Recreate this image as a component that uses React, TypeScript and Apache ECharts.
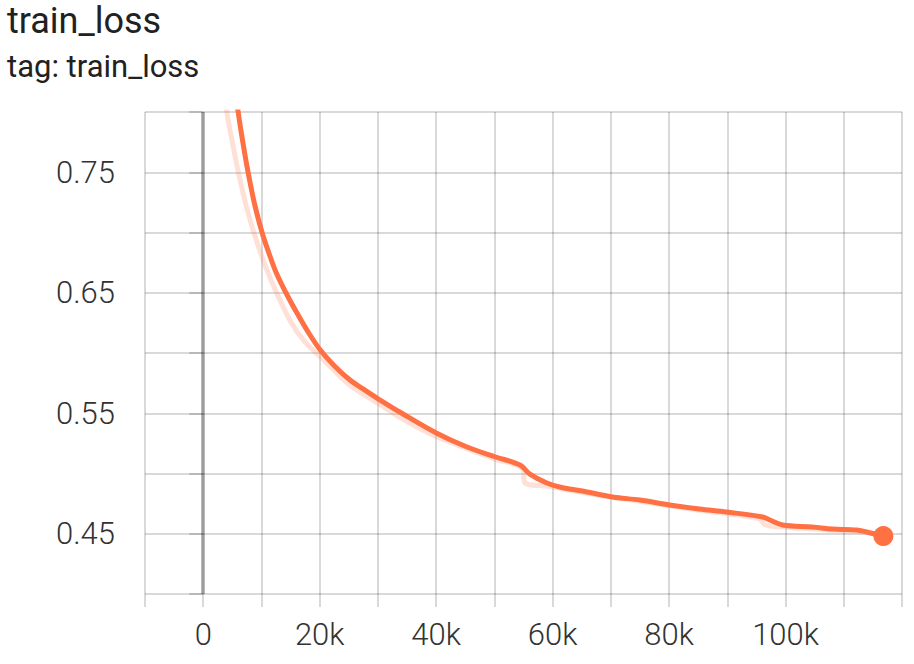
import React, { useEffect, useRef } from "react";
import * as echarts from "echarts";

const titleText = "train_loss";
const subtitleText = "tag: train_loss";

const smoothSteps = [4500, 5200, 6000, 6800, 7700, 8800, 10100, 11200, 12500, 14200, 16000, 18000, 20100, 22500, 25200, 27500, 30100, 34100, 40100, 45200, 50100, 54400, 56100, 59000, 61200, 65900, 70300, 75000, 80100, 85200, 89900, 96100, 97300, 99500, 104600, 108100, 112200, 113900, 116800];
const smoothValues = [0.862, 0.83, 0.8, 0.775, 0.75, 0.724, 0.7, 0.684, 0.667, 0.65, 0.634, 0.6175, 0.6025, 0.5895, 0.5776, 0.57, 0.5618, 0.55, 0.5334, 0.5222, 0.5139, 0.507, 0.4995, 0.4921, 0.4888, 0.4847, 0.4805, 0.478, 0.4739, 0.4705, 0.468, 0.4639, 0.4614, 0.4573, 0.4556, 0.4539, 0.4531, 0.4515, 0.4481];

const rawSteps = [3200, 4060, 5200, 6350, 7770, 9780, 11780, 14900, 17500, 20100, 25000, 30100, 35000, 40100, 50100, 54800, 55300, 59000, 65900, 75000, 85200, 95500, 96400, 99500, 108100, 113900, 116800];
const rawValues = [0.84, 0.8, 0.77, 0.743, 0.715, 0.684, 0.659, 0.627, 0.609, 0.597, 0.574, 0.558, 0.543, 0.5305, 0.512, 0.5045, 0.492, 0.4895, 0.4835, 0.477, 0.4695, 0.4625, 0.4575, 0.4555, 0.453, 0.451, 0.4475];

const yLabelValues = [0.45, 0.55, 0.65, 0.75];
const xLabelValues = [0, 20000, 40000, 60000, 80000, 100000];

const FONT = "Roboto";
const GRID_COLOR = "rgba(0,0,0,0.15)";
const LINE_COLOR = "#ff7043";

export default function App() {
  const ref = useRef<HTMLDivElement>(null);
  useEffect(() => {
    document.body.style.margin = "0";
    if (!ref.current) return;
    const chart = echarts.init(ref.current, null, { renderer: "svg" });
    const smooth = smoothSteps.map((s, i) => [s, smoothValues[i]]);
    const raw = rawSteps.map((s, i) => [s, rawValues[i]]);
    const last = smooth[smooth.length - 1];
    chart.setOption({
      animation: false,
      backgroundColor: "#ffffff",
      title: {
        text: titleText,
        subtext: subtitleText,
        left: 2,
        top: -2,
        itemGap: 12,
        textStyle: { fontFamily: FONT, fontSize: 36, fontWeight: "normal", color: "#212121" },
        subtextStyle: { fontFamily: FONT, fontSize: 31, color: "#212121" },
      },
      grid: { left: 145, top: 112, right: 12, bottom: 70, outerBoundsMode: "none" },
      xAxis: {
        type: "value",
        min: -10000,
        max: 120000,
        interval: 10000,
        axisLine: { show: false },
        axisTick: { show: true, length: 13, lineStyle: { color: GRID_COLOR, width: 2 } },
        splitLine: { show: true, lineStyle: { color: GRID_COLOR, width: 2 } },
        axisLabel: {
          margin: 25,
          fontFamily: FONT,
          fontSize: 31,
          fontWeight: 300,
          color: "#333333",
          showMinLabel: true,
          showMaxLabel: true,
          formatter: (v: number) => {
            const r = Math.round(v);
            if (!xLabelValues.includes(r)) return "";
            return r === 0 ? "0" : r / 1000 + "k";
          },
        },
      },
      yAxis: {
        type: "value",
        min: 0.4,
        max: 0.8,
        interval: 0.05,
        axisLine: { show: false },
        axisTick: { show: true, length: 14, lineStyle: { color: GRID_COLOR, width: 2 } },
        splitLine: { show: true, lineStyle: { color: GRID_COLOR, width: 2 } },
        axisLabel: {
          margin: 30,
          fontFamily: FONT,
          fontSize: 31,
          fontWeight: 300,
          color: "#333333",
          formatter: (v: number) => {
            const r = Math.round(v * 100) / 100;
            return yLabelValues.some((t) => Math.abs(t - r) < 1e-6) ? r.toFixed(2) : "";
          },
        },
      },
      series: [
        {
          type: "line",
          data: raw,
          showSymbol: false,
          silent: true,
          smooth: 0.35,
          lineStyle: { color: "rgba(255,112,67,0.22)", width: 5 },
          z: 2,
        },
        {
          type: "line",
          data: smooth,
          showSymbol: false,
          silent: true,
          smooth: 0.35,
          lineStyle: { color: LINE_COLOR, width: 5 },
          z: 3,
          markLine: {
            silent: true,
            symbol: ["none", "none"],
            label: { show: false },
            lineStyle: { color: "rgba(0,0,0,0.28)", width: 4, type: "solid" },
            data: [{ xAxis: 0 }],
          },
        },
        {
          type: "scatter",
          data: [last],
          symbolSize: 20,
          itemStyle: { color: LINE_COLOR, opacity: 1 },
          silent: true,
          z: 4,
        },
      ],
    });
    return () => chart.dispose();
  }, []);
  return <div ref={ref} style={{ width: 914, height: 664 }} />;
}
